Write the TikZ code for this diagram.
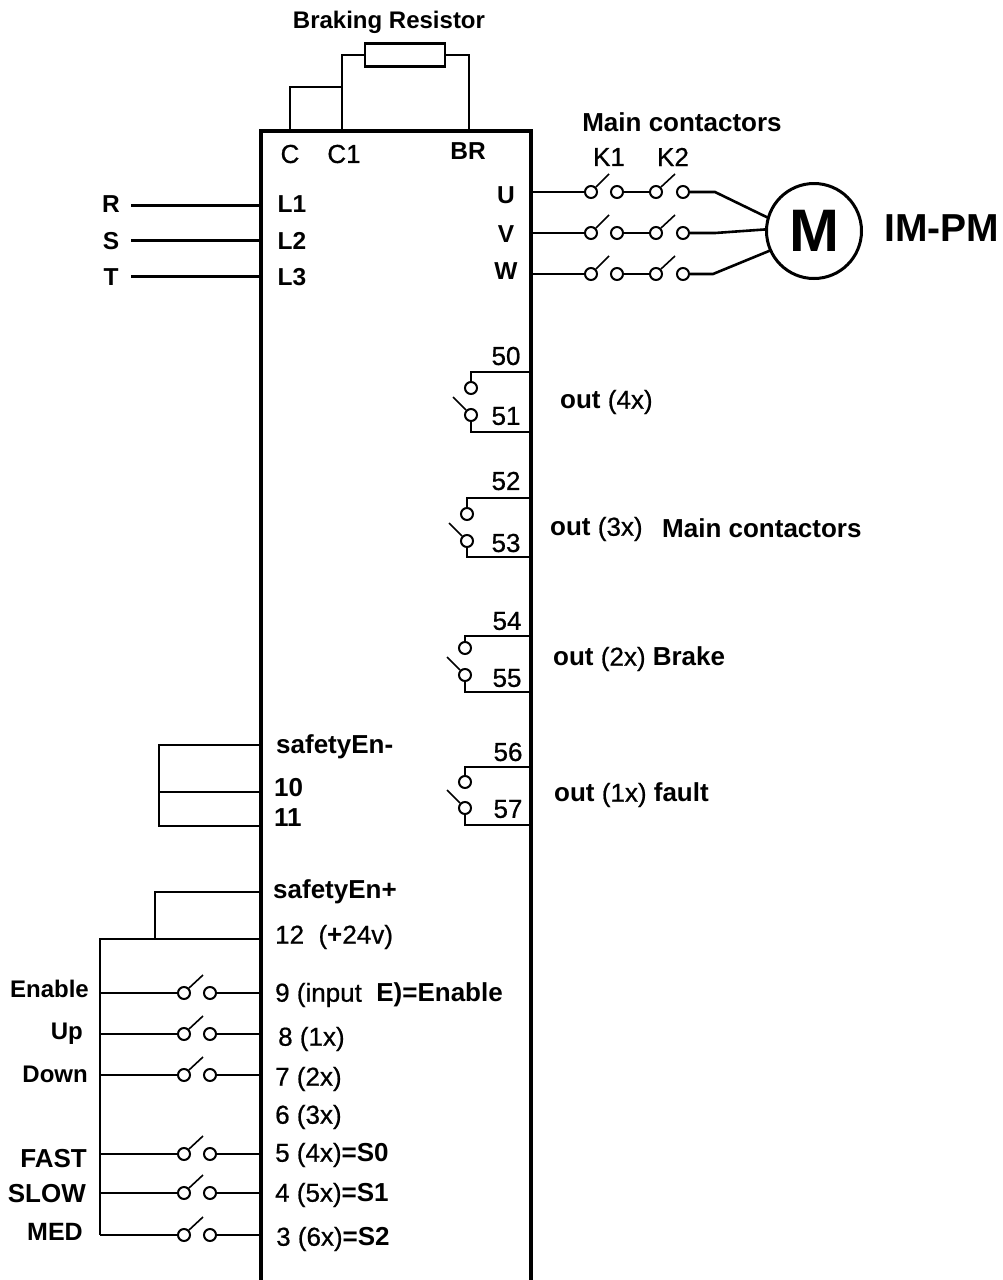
\documentclass[tikz,border=0pt]{standalone}
\usepackage{fontspec}
\setmainfont{Liberation Sans}
\newfontfamily\semi[FakeBold=0.7]{Liberation Sans}
\usetikzlibrary{positioning, calc}
\newcommand{\rg}[1]{{\mdseries\semi #1}}

\begin{document}
\begin{tikzpicture}[x=1pt,y=-1pt,
    wire/.style={line width=2.6pt},
    heavy/.style={line width=3pt},
    blade/.style={line width=1.6pt},
    contact/.style={circle,draw,line width=2pt,fill=white,inner sep=0pt,minimum size=12pt},
    lbl/.style={font=\fontsize{24.5}{26}\selectfont\bfseries,inner sep=0pt},
    plain/.style={inner sep=0pt,font=\fontsize{26}{28}\selectfont\semi},
    pin/.style={inner sep=0pt,anchor=west,font=\fontsize{26}{28}\selectfont\bfseries},
    tag/.style={inner sep=0pt,anchor=east}]
  \useasboundingbox (0,0) rectangle (1002,1280);
  \clip (0,0) rectangle (1002,1280);

  \node[draw,line width=4pt,outer sep=0pt,minimum width=270pt,minimum height=1190pt] (body) at (396,726) {};

  % braking resistor
  \node[draw,wire,outer sep=0pt,minimum width=80pt,minimum height=23pt] (res) at (405,55) {};
  \node[lbl,font=\fontsize{24}{26}\selectfont\bfseries] (resname) at (389,22) {Braking Resistor};
  \node[plain] (c) at (290,154) {C};
  \node[plain] (c1) at (344,154) {C1};
  \node[lbl] (br) at (468,151) {BR};
  \coordinate (ctop) at (290,131);
  \coordinate (c1top) at (342,131);
  \coordinate (brtop) at (469,131);
  \coordinate (cjoin) at (342,87);
  \draw[wire] (c1top) |- (res.west);
  \draw[wire] (brtop) |- (res.east);
  \draw[wire] (ctop) |- (cjoin);

  % mains
  \foreach \name/\txt/\pintxt/\y/\ty in {r/R/L1/205/204,s/S/L2/240/241,t/T/L3/276/277}{
    \node[lbl] (\name) at (111,\ty) {\txt};
    \node[lbl] (\name pin) at (292,\ty) {\pintxt};
    \coordinate (\name in) at (131,\y);
    \coordinate (\name port) at (261,\y);
    \draw[heavy] (\name in) -- (\name port);
  }

  % motor
  \node[draw,circle,line width=3pt,outer sep=0pt,minimum size=95pt,inner sep=0pt,
        font=\fontsize{60}{60}\selectfont\bfseries] (motor) at (814,231) {M};
  \node[font=\fontsize{39}{39}\selectfont\bfseries,inner sep=0pt] (impm) at (942,228) {IM-PM};
  \node[lbl,font=\fontsize{26}{28}\selectfont\bfseries] (mainc) at (682,122) {Main contactors};
  \node[plain] (k1) at (609,157) {K1};
  \node[plain] (k2) at (673,157) {K2};
  \foreach \name/\y/\ty/\kx/\mang in {U/192/195/715/164,V/233/234/715/178,W/274/271/713/204}{
    \node[lbl] (\name) at (506,\ty) {\name};
    \coordinate (\name port) at (531,\y);
    \coordinate (\name kink) at (\kx,\y);
    \node[contact] (\name a) at (591,\y) {};
    \node[contact] (\name b) at (617,\y) {};
    \node[contact] (\name c) at (656,\y) {};
    \node[contact] (\name d) at (683,\y) {};
    \coordinate (\name ka) at (609,\y-18);
    \coordinate (\name kb) at (675,\y-18);
    \draw[wire] (\name port) -- (\name a);
    \draw[wire] (\name b) -- (\name c);
    \draw[wire] (\name d) -- (\name kink) -- (motor.\mang);
    \draw[blade] (\name a.45) -- (\name ka);
    \draw[blade] (\name c.45) -- (\name kb);
  }

  % relay outputs
  \foreach \name/\nb/\x/\top/\ya/\yb/\bot/\tb/\tx in {
      k/51/471/372/388/415/432/416/506,
      l/53/467/498/514/541/557/543/506,
      m/55/465/636/648/675/692/678/507,
      n/57/465/767/782/808/825/809/508}{
    \node[contact] (\name a) at (\x,\ya) {};
    \node[contact] (\name b) at (\x,\yb) {};
    \node[plain] (\name lb) at (\tx,\tb) {\nb};
    \coordinate (\name bend) at (\x,\top);
    \coordinate (\name low) at (\x,\bot);
    \coordinate (\name ptop) at (531,\top);
    \coordinate (\name pbot) at (531,\bot);
    \coordinate (\name arm) at (\x-18,\yb-18);
    \draw[wire] (\name ptop) -- (\name bend) -- (\name a);
    \draw[wire] (\name b) -- (\name low) -- (\name pbot);
    \draw[blade] (\name b.135) -- (\name arm);
  }
  \foreach \name/\txt/\tx/\ty in {t50/50/506/356,t52/52/506/481,t54/54/507/621,t56/56/508/752}{
    \node[plain] (\name) at (\tx,\ty) {\txt};
  }
  \node[pin] (out4) at (560,402) {out \rg{(4x)}};
  \node[pin] (out3) at (550,529) {out \rg{(3x)}};
  \node[pin] (mainc2) at (662,528) {Main contactors};
  \node[pin] (out2) at (553,659) {out \rg{(2x)} Brake};
  \node[pin] (out1) at (554,795) {out \rg{(1x)} fault};

  % safety
  \node[pin] (enm) at (276,747) {safetyEn-};
  \node[pin] (p10) at (274,788) {10};
  \node[pin] (p11) at (274,818) {11};
  \node[pin] (enp) at (273,892) {safetyEn+};
  \node[pin] (p12) at (275,937) {\rg{12~~(}+\rg{24v)}};
  \coordinate (enmport) at (261,745);
  \coordinate (p10port) at (261,792);
  \coordinate (p11port) at (261,826);
  \coordinate (loop) at (159,745);
  \coordinate (loop10) at (159,792);
  \coordinate (loop11) at (159,826);
  \draw[wire] (enmport) -- (loop) -- (loop11) -- (p11port);
  \draw[wire] (loop10) -- (p10port);
  \coordinate (enpport) at (261,892);
  \coordinate (p12port) at (261,939);
  \coordinate (busend) at (100,1235);
  \coordinate (bustop) at (100,939);
  \coordinate (tee) at (155,939);
  \draw[wire] (enpport) -| (tee);
  \draw[wire] (p12port) -- (bustop) -- (busend);

  % inputs
  \foreach \name/\txt/\fs/\y/\ty/\rx/\pintxt/\px/\py in {
      enable/Enable/24/993/989/89/{\rg{9 (input}~~E)=Enable}/275/995,
      up/Up/24/1034/1034/83/{\rg{8 (1x)}}/278/1039,
      down/Down/24/1075/1074/88/{\rg{7 (2x)}}/275/1079,
      fast/FAST/26/1154/1159/87/{\rg{5 (4x)}=S0}/275/1155,
      slow/SLOW/26/1193/1194/86/{\rg{4 (5x)}=S1}/275/1195,
      med/MED/25/1235/1232/83/{\rg{3 (6x)}=S2}/276/1239}{
    \node[tag,font=\fontsize{\fs}{28}\selectfont\bfseries] (\name) at (\rx,\ty) {\txt};
    \node[pin] (\name pin) at (\px,\py) {\pintxt};
    \node[contact] (\name a) at (184,\y) {};
    \node[contact] (\name b) at (210,\y) {};
    \coordinate (\name bus) at (100,\y);
    \coordinate (\name port) at (261,\y);
    \coordinate (\name arm) at (203,\y-18);
    \draw[wire] (\name bus) -- (\name a);
    \draw[wire] (\name b) -- (\name port);
    \draw[blade] (\name a.45) -- (\name arm);
  }
  \node[pin] (p6) at (275,1117) {\rg{6 (3x)}};
\end{tikzpicture}
\end{document}
